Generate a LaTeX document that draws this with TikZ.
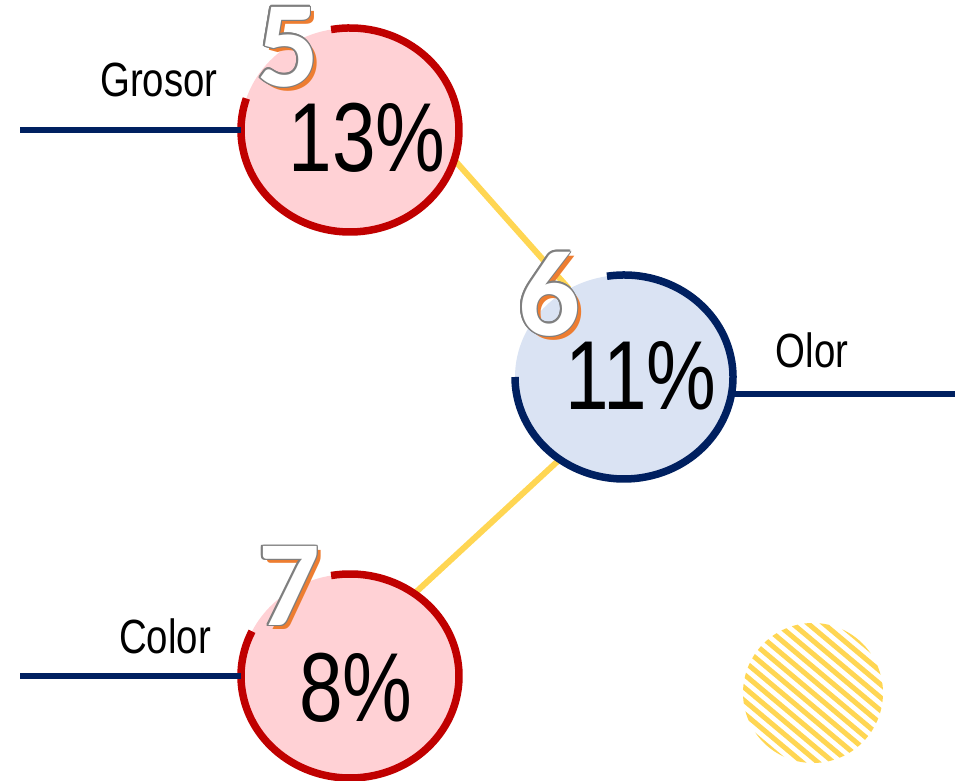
\documentclass[tikz,border=0pt]{standalone}
\usepackage{fontspec}
\setmainfont{Liberation Sans}
\newfontfamily\narrowfont[FakeStretch=0.8]{Liberation Sans}
\newfontfamily\badgefont{Carlito}
\usetikzlibrary{shapes.geometric,calc}
\definecolor{pinkfill}{HTML}{FFD1D5}
\definecolor{bluefill}{HTML}{DAE3F3}
\definecolor{darkred}{HTML}{C00000}
\definecolor{navy}{HTML}{002060}
\definecolor{gold}{HTML}{FFD653}
\definecolor{shadoworange}{HTML}{ED7D31}
\definecolor{outlinegray}{HTML}{7F7F7F}
\newcommand\mybadge[3]{%
  \node[badgetxt, text=shadoworange] (#1s) at ($(#2)+(4.5,-4)$) {#3};
  \foreach \a in {0,30,...,330}{\node[badgetxt, text=outlinegray] (#1o\a) at ($(#2)+(\a:1.4)$) {#3};}
  \node[badgetxt, text=white] (#1) at (#2) {#3};
}
\begin{document}
\begin{tikzpicture}[x=1pt,y=1pt,
  disc/.style={ellipse, inner sep=0, minimum width=218, minimum height=204},
  rim/.style={line width=7.5},
  leader/.style={navy, line width=6},
  link/.style={gold, line width=6},
  lbl/.style={inner sep=0, font=\narrowfont\fontsize{48}{48}\selectfont},
  pct/.style={inner sep=0, font=\narrowfont\fontsize{98}{98}\selectfont},
  badgetxt/.style={inner sep=0, font=\badgefont\bfseries\fontsize{122}{122}\selectfont},
]
\useasboundingbox (0,0) rectangle (964,781);

% discs
\node[disc, fill=pinkfill] (c1) at (350,651) {};
\node[disc, fill=bluefill] (c2) at (624,404) {};
\node[disc, fill=pinkfill] (c3) at (350,105) {};

% connectors
\draw[link] (c1.-16) -- (c2.122.5);
\draw[link] (c2.232.7) -- (c3.52.3);

% rims
\draw[rim, darkred] ($(c1.center)+(100:109 and 102)$) arc[start angle=100, end angle=-198, x radius=109, y radius=102];
\draw[rim, navy] ($(c2.center)+(99:109 and 102)$) arc[start angle=99, end angle=-180, x radius=109, y radius=102];
\draw[rim, darkred] ($(c3.center)+(100:109 and 102)$) arc[start angle=100, end angle=-206, x radius=109, y radius=102];

% leaders
\coordinate (gl) at (20,651);
\coordinate (cl) at (20,105);
\coordinate (ol) at (955,0);
\draw[leader] (c1.west) -- (gl);
\draw[leader] (c3.west) -- (cl);
\draw[leader] (c2.-9) -- (c2.-9 -| ol);

% labels
\node[lbl] (tg) at (159,701.5) {Grosor};
\node[lbl] (tc) at (165,145) {Color};
\node[lbl] (to) at (812,431) {Olor};

% percentages
\node[pct] (p1) at (367,643) {13\%};
\node[pct] (p2) at (641,405) {11\%};
\node[pct] (p3) at (356,93) {8\%};

% badges
\coordinate (b5pos) at (288,734);
\coordinate (b6pos) at (549,487);
\coordinate (b7pos) at (289,195);
\mybadge{b5}{b5pos}{5}
\mybadge{b6}{b6pos}{6}
\mybadge{b7}{b7pos}{7}

% striped disc
\coordinate (sd) at (813,88);
\begin{scope}
  \clip (sd) circle[radius=70];
  \begin{scope}[shift={(sd)}, rotate=-40]
    \foreach \k in {-8,...,8}{\draw[gold, line width=5] (-90,\k*10) -- (90,\k*10);}
  \end{scope}
\end{scope}
\end{tikzpicture}
\end{document}
